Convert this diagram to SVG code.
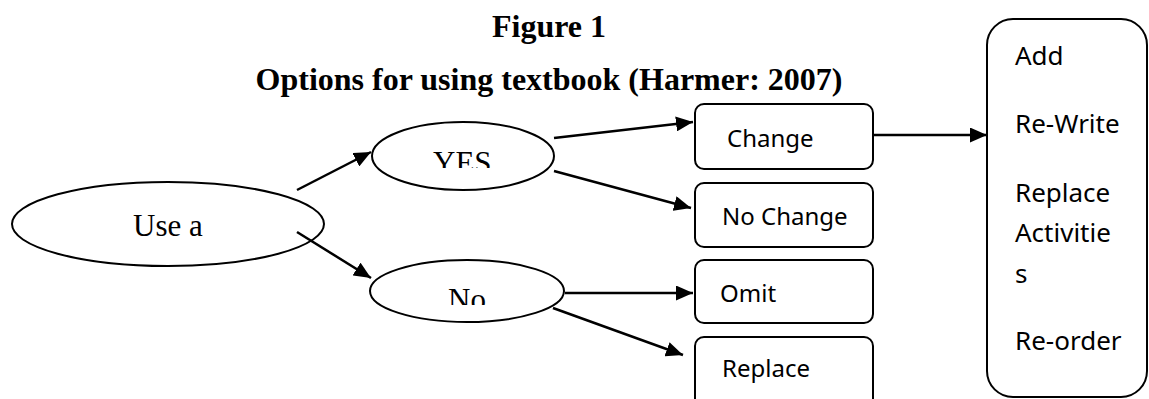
<svg xmlns="http://www.w3.org/2000/svg" width="1149" height="399" viewBox="0 0 1149 399">
<style>
.title{font-family:"Liberation Serif","Times New Roman",serif;font-weight:bold;font-size:32px;fill:#000;text-anchor:middle}
.serif{font-family:"Liberation Serif","Times New Roman",serif;font-size:31px;fill:#000}
.sans{font-family:"Noto Sans","Open Sans",sans-serif;font-size:24px;fill:#000}
.big{font-family:"Noto Sans","Open Sans",sans-serif;font-size:26px;fill:#000}
.shape{fill:#fff;stroke:#000;stroke-width:2}
.conn{stroke:#000;stroke-width:2.5;fill:none;marker-end:url(#arr)}
</style>
<defs>
<marker id="arr" markerUnits="userSpaceOnUse" markerWidth="18" markerHeight="15" refX="17" refY="7.5" orient="auto">
<path d="M0,0 L17,7.5 L0,15 z" fill="#000"/>
</marker>
<clipPath id="clipYes"><rect x="372" y="122" width="182" height="46"/></clipPath>
<clipPath id="clipNo"><rect x="370" y="260" width="195" height="45"/></clipPath>
</defs>
<rect width="1149" height="399" fill="#fff"/>
<g id="title">
<text class="title" x="549" y="37">Figure 1</text>
<text class="title" x="549" y="90">Options for using textbook (Harmer: 2007)</text>
</g>
<g id="node-use">
<ellipse class="shape" cx="168" cy="224" rx="156" ry="42"/>
<text class="serif" x="133" y="236">Use a</text>
</g>
<g id="node-yes">
<ellipse class="shape" cx="463" cy="156" rx="91" ry="34"/>
<text class="serif" x="433" y="173" clip-path="url(#clipYes)">YES</text>
</g>
<g id="node-no">
<ellipse class="shape" cx="467" cy="291" rx="97" ry="31"/>
<text class="serif" x="448" y="310" clip-path="url(#clipNo)">No</text>
</g>
<g id="node-change">
<rect class="shape" x="695" y="104" width="178" height="65" rx="9"/>
<text class="sans" x="727" y="147">Change</text>
</g>
<g id="node-nochange">
<rect class="shape" x="695" y="183" width="178" height="64" rx="9"/>
<text class="sans" x="722" y="225">No Change</text>
</g>
<g id="node-omit">
<rect class="shape" x="695" y="260" width="178" height="63" rx="9"/>
<text class="sans" x="720" y="302">Omit</text>
</g>
<g id="node-replace">
<rect class="shape" x="695" y="337" width="178" height="80" rx="9"/>
<text class="sans" x="722" y="377">Replace</text>
</g>
<g id="node-options">
<rect class="shape" x="987" y="19" width="160" height="378" rx="26"/>
<text class="big" x="1015" y="65">Add</text>
<text class="big" x="1015" y="133">Re-Write</text>
<text class="big" x="1015" y="202">Replace</text>
<text class="big" x="1015" y="242">Activitie</text>
<text class="big" x="1015" y="283">s</text>
<text class="big" x="1015" y="350">Re-order</text>
</g>
<g id="connectors">
<line class="conn" x1="297" y1="190" x2="371" y2="152"/>
<line class="conn" x1="297" y1="232" x2="371" y2="278"/>
<line class="conn" x1="554" y1="138" x2="693" y2="122"/>
<line class="conn" x1="554" y1="171" x2="691" y2="208"/>
<line class="conn" x1="565" y1="293" x2="693" y2="293"/>
<line class="conn" x1="553" y1="308" x2="683" y2="355"/>
<line class="conn" x1="873" y1="135" x2="987" y2="135"/>
</g>
</svg>
